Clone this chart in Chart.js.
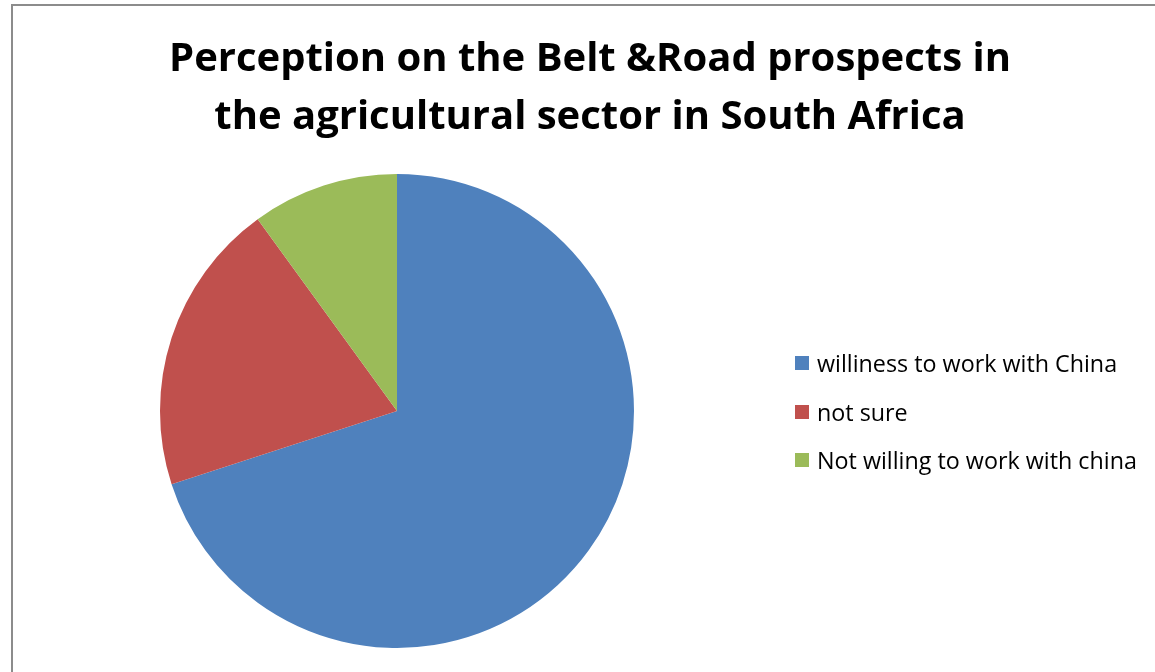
<!DOCTYPE html>
<html>
<head>
<meta charset="utf-8">
<script src="https://cdn.jsdelivr.net/npm/chart.js@4.4.1/dist/chart.umd.min.js"></script>
<style>
  html, body { margin: 0; padding: 0; background: #fff; overflow: hidden; }
  #frame {
    position: absolute; left: 11px; top: 4px; width: 1200px; height: 700px;
    border-left: 2px solid #8c8c8c; border-top: 2px solid #8c8c8c;
  }
  #wrap { position: absolute; left: 0; top: 0; width: 1155px; height: 672px; }
  #title {
    position: absolute; left: 0; top: 27px; width: 1180px; text-align: center;
    font-family: 'Open Sans', sans-serif; font-weight: bold; font-size: 40px; line-height: 58px; color: #000;
  }
  #legend { position: absolute; left: 795px; top: 339px; font-family: 'Open Sans', sans-serif; font-size: 23.3px; color: #000; }
  .legend-item { display: flex; align-items: center; height: 48.5px; white-space: nowrap; }
  .legend-dot { width: 14px; height: 14px; margin-right: 8px; display: inline-block; }
</style>
</head>
<body>
<div id="frame"></div>
<div id="wrap"><canvas id="pieChart"></canvas></div>
<div id="title"></div>
<div id="legend"></div>
<script>
// ------ DATA ------
const labels = ['williness to work with China', 'not sure', 'Not willing to work with china'];
const values = [70, 20, 10];
const colors = ['#4f81bd', '#c0504d', '#9bbb59'];
const titleLines = ['Perception on the Belt &Road prospects in', 'the agricultural sector in South Africa'];

// Title (HTML, centred over the whole frame)
document.getElementById('title').innerHTML = titleLines.join('<br>').replace(/&R/g, '&amp;R');

// Custom legend
document.getElementById('legend').innerHTML = labels.map((l, i) =>
  `<div class="legend-item"><span class="legend-dot" style="background:${colors[i]}"></span>${l}</div>`
).join('');

new Chart(document.getElementById('pieChart'), {
  type: 'pie',
  data: {
    labels,
    datasets: [{
      data: values,
      backgroundColor: colors,
      borderWidth: 0
    }]
  },
  options: {
    responsive: true,
    maintainAspectRatio: false,
    animation: false,
    layout: { padding: { left: 0, right: 361, top: 174, bottom: 24 } },
    plugins: {
      legend: { display: false },
      tooltip: { enabled: false },
      title: { display: false }
    }
  }
});
</script>
</body>
</html>
